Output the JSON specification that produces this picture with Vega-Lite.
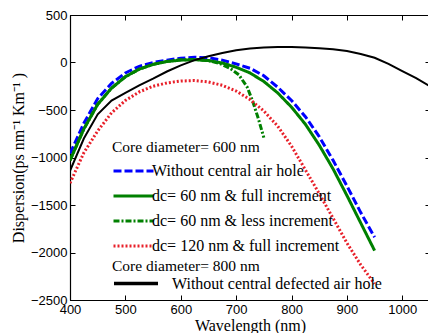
{
  "$schema": "https://vega.github.io/schema/vega-lite/v6.json",
  "width": 360,
  "height": 285,
  "autosize": {"type": "none"},
  "padding": {"left": 70, "top": 15, "right": 0, "bottom": 33},
  "background": "white",
  "config": {
    "view": {"stroke": "black", "strokeWidth": 1},
    "axis": {
      "grid": false,
      "domainColor": "black",
      "domainWidth": 1.2,
      "tickColor": "black",
      "tickSize": -5,
      "labelColor": "black",
      "labelFont": "Arial",
      "labelFontSize": 13,
      "labelLimit": 0,
      "labelFlush": false,
      "format": "d",
      "titleFont": "Times New Roman",
      "titleFontSize": 16,
      "titleFontWeight": "normal",
      "titleColor": "black"
    },
    "legend": {
      "titleFont": "Times New Roman",
      "titleFontSize": 15.5,
      "titleFontWeight": "normal",
      "titleColor": "black",
      "titleLimit": 0,
      "labelFont": "Times New Roman",
      "labelFontSize": 16,
      "labelColor": "black",
      "labelLimit": 0,
      "symbolType": "stroke",
      "clipHeight": 25,
      "rowPadding": 0,
      "titlePadding": 3
    }
  },
  "data": {
    "values": [
      {"series": "Without central air hole", "wl": 400, "D": -960},
      {"series": "Without central air hole", "wl": 425, "D": -640},
      {"series": "Without central air hole", "wl": 450, "D": -380},
      {"series": "Without central air hole", "wl": 475, "D": -220},
      {"series": "Without central air hole", "wl": 500, "D": -110},
      {"series": "Without central air hole", "wl": 525, "D": -40},
      {"series": "Without central air hole", "wl": 550, "D": 0},
      {"series": "Without central air hole", "wl": 575, "D": 25},
      {"series": "Without central air hole", "wl": 600, "D": 45},
      {"series": "Without central air hole", "wl": 625, "D": 55},
      {"series": "Without central air hole", "wl": 650, "D": 50},
      {"series": "Without central air hole", "wl": 675, "D": 25},
      {"series": "Without central air hole", "wl": 700, "D": -15},
      {"series": "Without central air hole", "wl": 725, "D": -60},
      {"series": "Without central air hole", "wl": 750, "D": -140},
      {"series": "Without central air hole", "wl": 775, "D": -260},
      {"series": "Without central air hole", "wl": 800, "D": -400},
      {"series": "Without central air hole", "wl": 825, "D": -570},
      {"series": "Without central air hole", "wl": 850, "D": -780},
      {"series": "Without central air hole", "wl": 875, "D": -1030},
      {"series": "Without central air hole", "wl": 900, "D": -1300},
      {"series": "Without central air hole", "wl": 925, "D": -1580},
      {"series": "Without central air hole", "wl": 950, "D": -1840},

      {"series": "dc= 60 nm & full increment", "wl": 400, "D": -1030},
      {"series": "dc= 60 nm & full increment", "wl": 425, "D": -700},
      {"series": "dc= 60 nm & full increment", "wl": 450, "D": -440},
      {"series": "dc= 60 nm & full increment", "wl": 475, "D": -270},
      {"series": "dc= 60 nm & full increment", "wl": 500, "D": -150},
      {"series": "dc= 60 nm & full increment", "wl": 525, "D": -70},
      {"series": "dc= 60 nm & full increment", "wl": 550, "D": -20},
      {"series": "dc= 60 nm & full increment", "wl": 575, "D": 10},
      {"series": "dc= 60 nm & full increment", "wl": 600, "D": 25},
      {"series": "dc= 60 nm & full increment", "wl": 625, "D": 30},
      {"series": "dc= 60 nm & full increment", "wl": 650, "D": 20},
      {"series": "dc= 60 nm & full increment", "wl": 675, "D": -5},
      {"series": "dc= 60 nm & full increment", "wl": 700, "D": -50},
      {"series": "dc= 60 nm & full increment", "wl": 725, "D": -110},
      {"series": "dc= 60 nm & full increment", "wl": 750, "D": -200},
      {"series": "dc= 60 nm & full increment", "wl": 775, "D": -320},
      {"series": "dc= 60 nm & full increment", "wl": 800, "D": -470},
      {"series": "dc= 60 nm & full increment", "wl": 825, "D": -650},
      {"series": "dc= 60 nm & full increment", "wl": 850, "D": -870},
      {"series": "dc= 60 nm & full increment", "wl": 875, "D": -1120},
      {"series": "dc= 60 nm & full increment", "wl": 900, "D": -1400},
      {"series": "dc= 60 nm & full increment", "wl": 925, "D": -1690},
      {"series": "dc= 60 nm & full increment", "wl": 950, "D": -1980},

      {"series": "dc= 60 nm & less increment", "wl": 400, "D": -1030},
      {"series": "dc= 60 nm & less increment", "wl": 425, "D": -700},
      {"series": "dc= 60 nm & less increment", "wl": 450, "D": -440},
      {"series": "dc= 60 nm & less increment", "wl": 475, "D": -270},
      {"series": "dc= 60 nm & less increment", "wl": 500, "D": -150},
      {"series": "dc= 60 nm & less increment", "wl": 525, "D": -70},
      {"series": "dc= 60 nm & less increment", "wl": 550, "D": -20},
      {"series": "dc= 60 nm & less increment", "wl": 575, "D": 12},
      {"series": "dc= 60 nm & less increment", "wl": 600, "D": 28},
      {"series": "dc= 60 nm & less increment", "wl": 625, "D": 32},
      {"series": "dc= 60 nm & less increment", "wl": 650, "D": 20},
      {"series": "dc= 60 nm & less increment", "wl": 670, "D": -10},
      {"series": "dc= 60 nm & less increment", "wl": 690, "D": -65},
      {"series": "dc= 60 nm & less increment", "wl": 705, "D": -130},
      {"series": "dc= 60 nm & less increment", "wl": 720, "D": -260},
      {"series": "dc= 60 nm & less increment", "wl": 730, "D": -410},
      {"series": "dc= 60 nm & less increment", "wl": 740, "D": -590},
      {"series": "dc= 60 nm & less increment", "wl": 750, "D": -790},

      {"series": "dc= 120 nm & full increment", "wl": 400, "D": -1270},
      {"series": "dc= 120 nm & full increment", "wl": 425, "D": -950},
      {"series": "dc= 120 nm & full increment", "wl": 450, "D": -720},
      {"series": "dc= 120 nm & full increment", "wl": 475, "D": -530},
      {"series": "dc= 120 nm & full increment", "wl": 500, "D": -400},
      {"series": "dc= 120 nm & full increment", "wl": 525, "D": -310},
      {"series": "dc= 120 nm & full increment", "wl": 550, "D": -250},
      {"series": "dc= 120 nm & full increment", "wl": 575, "D": -215},
      {"series": "dc= 120 nm & full increment", "wl": 600, "D": -195},
      {"series": "dc= 120 nm & full increment", "wl": 625, "D": -190},
      {"series": "dc= 120 nm & full increment", "wl": 650, "D": -205},
      {"series": "dc= 120 nm & full increment", "wl": 675, "D": -240},
      {"series": "dc= 120 nm & full increment", "wl": 700, "D": -300},
      {"series": "dc= 120 nm & full increment", "wl": 725, "D": -390},
      {"series": "dc= 120 nm & full increment", "wl": 750, "D": -510},
      {"series": "dc= 120 nm & full increment", "wl": 775, "D": -670},
      {"series": "dc= 120 nm & full increment", "wl": 800, "D": -880},
      {"series": "dc= 120 nm & full increment", "wl": 825, "D": -1130},
      {"series": "dc= 120 nm & full increment", "wl": 850, "D": -1380},
      {"series": "dc= 120 nm & full increment", "wl": 875, "D": -1640},
      {"series": "dc= 120 nm & full increment", "wl": 900, "D": -1900},
      {"series": "dc= 120 nm & full increment", "wl": 925, "D": -2130},
      {"series": "dc= 120 nm & full increment", "wl": 950, "D": -2330},

      {"series": "Without central defected air hole", "wl": 400, "D": -1140},
      {"series": "Without central defected air hole", "wl": 425, "D": -800},
      {"series": "Without central defected air hole", "wl": 450, "D": -545},
      {"series": "Without central defected air hole", "wl": 475, "D": -400},
      {"series": "Without central defected air hole", "wl": 500, "D": -320},
      {"series": "Without central defected air hole", "wl": 525, "D": -240},
      {"series": "Without central defected air hole", "wl": 550, "D": -170},
      {"series": "Without central defected air hole", "wl": 575, "D": -95},
      {"series": "Without central defected air hole", "wl": 600, "D": -30},
      {"series": "Without central defected air hole", "wl": 625, "D": 25},
      {"series": "Without central defected air hole", "wl": 650, "D": 65},
      {"series": "Without central defected air hole", "wl": 675, "D": 100},
      {"series": "Without central defected air hole", "wl": 700, "D": 130},
      {"series": "Without central defected air hole", "wl": 725, "D": 148},
      {"series": "Without central defected air hole", "wl": 750, "D": 157},
      {"series": "Without central defected air hole", "wl": 775, "D": 162},
      {"series": "Without central defected air hole", "wl": 800, "D": 162},
      {"series": "Without central defected air hole", "wl": 825, "D": 158},
      {"series": "Without central defected air hole", "wl": 850, "D": 150},
      {"series": "Without central defected air hole", "wl": 875, "D": 140},
      {"series": "Without central defected air hole", "wl": 900, "D": 120},
      {"series": "Without central defected air hole", "wl": 925, "D": 90},
      {"series": "Without central defected air hole", "wl": 950, "D": 50},
      {"series": "Without central defected air hole", "wl": 975, "D": -15},
      {"series": "Without central defected air hole", "wl": 1000, "D": -90},
      {"series": "Without central defected air hole", "wl": 1025, "D": -165},
      {"series": "Without central defected air hole", "wl": 1050, "D": -250}
    ]
  },
  "layer": [
    {
      "transform": [{"filter": "datum.series !== 'Without central defected air hole'"}],
      "mark": {"type": "line", "strokeWidth": 3, "strokeCap": "butt", "clip": true},
      "encoding": {
        "x": {
          "field": "wl", "type": "quantitative",
          "scale": {"domain": [400, 1050], "nice": false, "zero": false},
          "axis": {"orient": "bottom", "values": [400, 500, 600, 700, 800, 900, 1000], "title": "Wavelength (nm)", "titleFont": "Times New Roman", "labelPadding": 8, "titlePadding": 1}
        },
        "y": {
          "field": "D", "type": "quantitative",
          "scale": {"domain": [-2500, 500], "nice": false, "zero": false},
          "axis": {"orient": "left", "values": [-2500, -2000, -1500, -1000, -500, 0, 500], "title": "Dispersion(ps nm⁻¹ Km⁻¹ )", "titleFont": "Times New Roman", "labelPadding": 8, "titlePadding": 4}
        },
        "color": {
          "field": "series", "type": "nominal",
          "scale": {
            "domain": ["Without central air hole", "dc= 60 nm & full increment", "dc= 60 nm & less increment", "dc= 120 nm & full increment"],
            "range": ["#0000ff", "#008000", "#008000", "#e8202a"]
          },
          "legend": {"title": "Core diameter= 600 nm", "orient": "none", "legendX": 42, "legendY": 125, "symbolSize": 1600, "symbolStrokeWidth": 3, "labelOffset": -3}
        },
        "strokeDash": {
          "field": "series", "type": "nominal",
          "scale": {
            "domain": ["Without central air hole", "dc= 60 nm & full increment", "dc= 60 nm & less increment", "dc= 120 nm & full increment"],
            "range": [[8, 3], [1, 0], [6, 2, 2, 2], [2, 2]]
          },
          "legend": {"title": "Core diameter= 600 nm", "orient": "none", "legendX": 42, "legendY": 125, "symbolSize": 1600, "symbolStrokeWidth": 3, "labelOffset": -3}
        }
      }
    },
    {
      "transform": [{"filter": "datum.series === 'Without central defected air hole'"}],
      "mark": {"type": "line", "strokeWidth": 2, "clip": true},
      "encoding": {
        "x": {
          "field": "wl", "type": "quantitative",
          "axis": {"orient": "top", "values": [400, 500, 600, 700, 800, 900, 1000], "labels": false, "title": null}
        },
        "y": {
          "field": "D", "type": "quantitative",
          "axis": {"orient": "right", "values": [-2500, -2000, -1500, -1000, -500, 0, 500], "labels": false, "title": null}
        },
        "color": {
          "field": "series", "type": "nominal",
          "scale": {"domain": ["Without central defected air hole"], "range": ["black"]},
          "legend": {"title": "Core diameter= 800 nm", "orient": "none", "legendX": 42, "legendY": 244, "symbolSize": 1936, "symbolStrokeWidth": 3.5, "labelOffset": 12, "clipHeight": 14, "titlePadding": 2}
        }
      }
    }
  ],
  "resolve": {
    "scale": {"color": "independent", "strokeDash": "independent"},
    "axis": {"x": "independent", "y": "independent"}
  }
}
